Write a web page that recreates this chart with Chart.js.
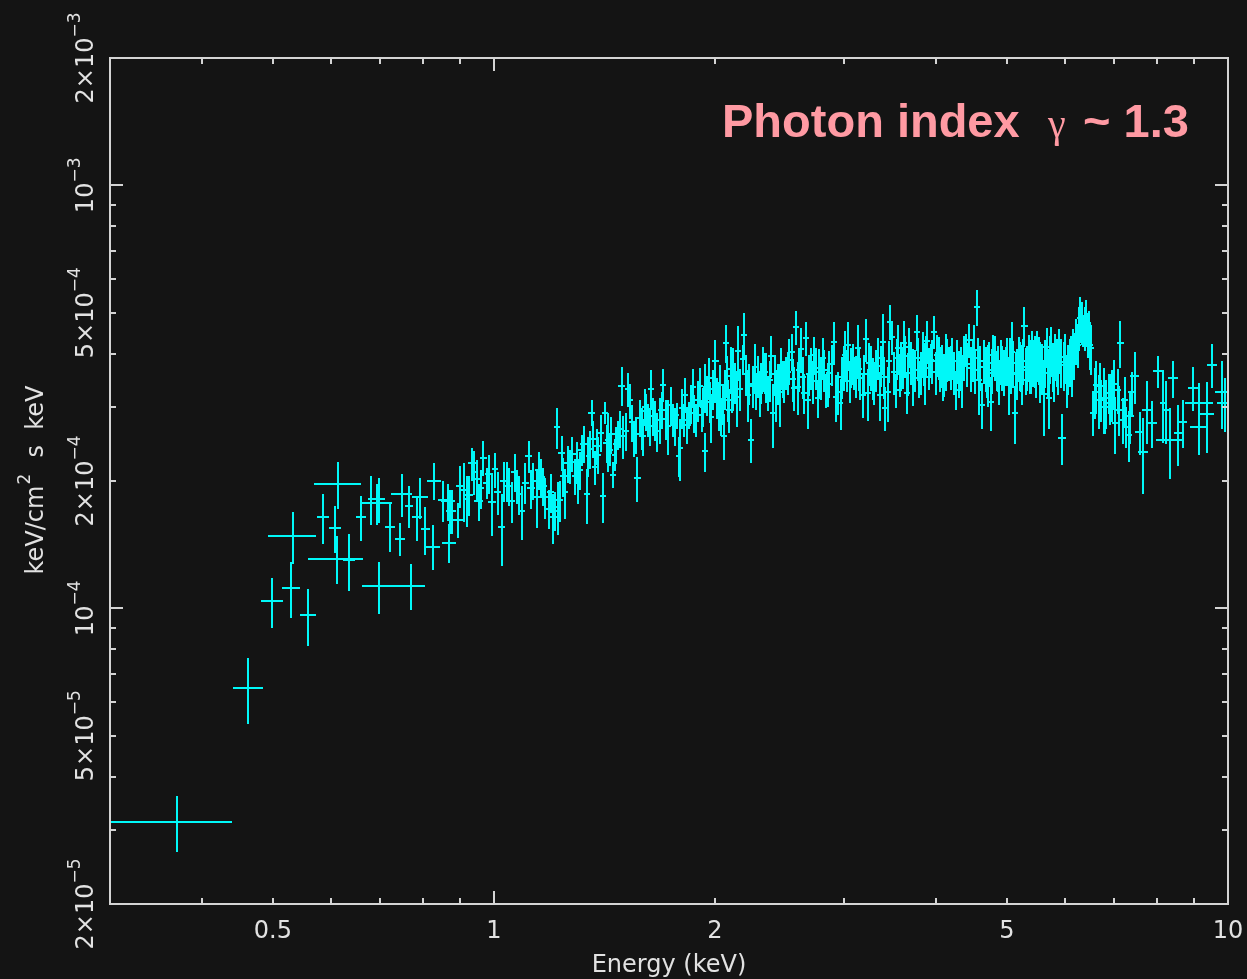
<!DOCTYPE html>
<html>
<head>
<meta charset="utf-8">
<script src="https://cdn.jsdelivr.net/npm/chart.js@4.4.1/dist/chart.umd.min.js"></script>
<style>
  html, body { margin: 0; padding: 0; background: #141414; }
  #wrap { width: 1247px; height: 979px; position: relative; }
</style>
</head>
<body>
<div id="wrap"><canvas id="spec"></canvas></div>
<script>
// Unfolded spectrum: bin centre (keV), half bin width (keV),
// flux and 1-sigma error in units of 1e-4 keV/cm2/s/keV
const energy = [
  0.37, 0.463, 0.499, 0.530, 0.532, 0.558, 0.586, 0.608, 0.611, 0.614,
  0.635, 0.659, 0.681, 0.693, 0.698, 0.698, 0.722, 0.745, 0.749, 0.766,
  0.770, 0.786, 0.794, 0.807, 0.825, 0.830, 0.852, 0.866, 0.869, 0.871,
  0.877, 0.894, 0.910, 0.919, 0.933, 0.941, 0.953, 0.968, 0.978, 0.994,
  1.003, 1.025, 1.031, 1.041, 1.058, 1.075, 1.091, 1.115, 1.132, 1.144,
  1.160, 1.174, 1.187, 1.205, 1.218, 1.222, 1.237, 1.250, 1.269, 1.289,
  1.303, 1.317, 1.338, 1.345, 1.359, 1.373, 1.388, 1.409, 1.416, 1.431,
  1.440, 1.452, 1.460, 1.477, 1.493, 1.500, 1.523, 1.535, 1.553, 1.569,
  1.589, 1.604, 1.620, 1.639, 1.656, 1.683, 1.700, 1.728, 1.756, 1.775,
  1.785, 1.795, 1.814, 1.824, 1.845, 1.866, 1.885, 1.908, 1.918, 1.937,
  1.942, 1.962, 1.979, 2.004, 2.000, 2.024, 2.041, 2.058, 2.073, 2.086,
  2.092, 2.105, 2.119, 2.143, 2.151, 2.185, 2.193, 2.219, 2.237, 2.265,
  2.277, 2.301, 2.325, 2.350, 2.365, 2.387, 2.399, 2.425, 2.450, 2.475,
  2.501, 2.527, 2.546, 2.567, 2.580, 2.594, 2.621, 2.648, 2.662, 2.676,
  2.704, 2.733, 2.762, 2.776, 2.806, 2.835, 2.865, 2.905, 2.926, 2.947,
  2.966, 2.996, 3.009, 3.040, 3.066, 3.098, 3.131, 3.157, 3.179, 3.213,
  3.230, 3.264, 3.299, 3.334, 3.358, 3.385, 3.412, 3.438, 3.466, 3.484,
  3.528, 3.554, 3.584, 3.622, 3.649, 3.679, 3.718, 3.768, 3.796, 3.836,
  3.863, 3.896, 3.937, 3.978, 4.020, 4.053, 4.091, 4.126, 4.169, 4.213,
  4.257, 4.302, 4.347, 4.392, 4.439, 4.472, 4.509, 4.547, 4.580, 4.627,
  4.676, 4.710, 4.750, 4.790, 4.840, 4.875, 4.926, 4.978, 5.025, 5.045,
  5.083, 5.120, 5.163, 5.205, 5.244, 5.282, 5.327, 5.371, 5.411, 5.451,
  5.497, 5.543, 5.612, 5.660, 5.701, 5.744, 5.792, 5.841, 5.890, 5.943,
  5.973, 6.036, 6.085, 6.131, 6.175, 6.239, 6.294, 6.347, 6.414, 6.460,
  6.510, 6.551, 6.619, 6.667, 6.716, 6.771, 6.828, 6.877, 6.950, 7.023,
  7.074, 7.133, 7.194, 7.269, 7.321, 7.399, 7.46, 7.58, 7.66, 7.76,
  7.88, 8.03, 8.16, 8.22, 8.34, 8.42, 8.55, 8.68, 9.13, 8.96,
  9.13, 9.36, 9.51, 9.81, 9.90,
  // crowded 0.9-7.4 keV stretch
  0.900, 0.925, 0.947, 0.960, 0.985, 1.012, 1.048, 1.067, 1.083, 1.103,
  1.123, 1.152, 1.168, 1.196, 1.212, 1.229, 1.244, 1.260, 1.279, 1.296,
  1.310, 1.325, 1.352, 1.366, 1.380, 1.398, 1.424, 1.446, 1.468, 1.485,
  1.512, 1.544, 1.561, 1.579, 1.596, 1.612, 1.630, 1.648, 1.668, 1.692,
  1.714, 1.742, 1.766, 1.805, 1.835, 1.856, 1.876, 1.897, 1.928, 1.950,
  1.970, 1.990, 2.012, 2.032, 2.050, 2.066, 2.080, 2.112, 2.130, 2.165,
  2.205, 2.228, 2.252, 2.289, 2.313, 2.338, 2.376, 2.412, 2.438, 2.462,
  2.488, 2.514, 2.556, 2.607, 2.634, 2.690, 2.718, 2.748, 2.791, 2.820,
  2.850, 2.885, 2.980, 3.024, 3.053, 3.082, 3.114, 3.145, 3.196, 3.247,
  3.282, 3.317, 3.372, 3.400, 3.452, 3.506, 3.541, 3.569, 3.603, 3.636,
  3.664, 3.698, 3.743, 3.782, 3.816, 3.850, 3.880, 3.916, 3.957, 4.000,
  4.036, 4.072, 4.108, 4.148, 4.191, 4.235, 4.280, 4.325, 4.370, 4.415,
  4.490, 4.528, 4.563, 4.600, 4.652, 4.693, 4.730, 4.770, 4.815, 4.858,
  4.900, 4.952, 5.003, 5.064, 5.101, 5.142, 5.184, 5.225, 5.263, 5.305,
  5.349, 5.391, 5.431, 5.474, 5.520, 5.578, 5.636, 5.680, 5.722, 5.768,
  5.816, 5.866, 5.915, 6.005, 6.060, 6.108, 6.153, 6.206, 6.266, 6.320,
  6.380, 6.437, 6.485, 6.590, 6.690, 6.800, 6.910, 6.990, 7.100, 7.230,
  7.350
];
const energyErr = [
  0.07, 0.022, 0.017, 0.015, 0.040, 0.014, 0.011, 0.011, 0.053, 0.045,
  0.012, 0.010, 0.008, 0.034, 0.012, 0.037, 0.012, 0.012, 0.025, 0.009,
  0.035, 0.013, 0.020, 0.012, 0.020, 0.018, 0.014, 0.020, 0.020, 0.010,
  0.012, 0.014, 0.010, 0.010, 0.012, 0.010, 0.012, 0.011, 0.010, 0.012,
  0.010, 0.012, 0.010, 0.011, 0.012, 0.010, 0.012, 0.013, 0.011, 0.011,
  0.013, 0.011, 0.012, 0.013, 0.011, 0.011, 0.013, 0.012, 0.013, 0.012,
  0.012, 0.014, 0.012, 0.012, 0.014, 0.012, 0.013, 0.012, 0.014, 0.012,
  0.012, 0.013, 0.012, 0.013, 0.015, 0.013, 0.015, 0.013, 0.013, 0.015,
  0.014, 0.015, 0.014, 0.016, 0.014, 0.015, 0.016, 0.015, 0.015, 0.015,
  0.016, 0.015, 0.016, 0.017, 0.016, 0.017, 0.016, 0.017, 0.016, 0.018,
  0.018, 0.024, 0.018, 0.019, 0.018, 0.019, 0.019, 0.020, 0.019, 0.019,
  0.019, 0.020, 0.020, 0.020, 0.020, 0.021, 0.021, 0.021, 0.021, 0.021,
  0.021, 0.022, 0.022, 0.022, 0.022, 0.022, 0.023, 0.023, 0.023, 0.023,
  0.023, 0.024, 0.024, 0.024, 0.024, 0.024, 0.025, 0.025, 0.025, 0.025,
  0.025, 0.026, 0.026, 0.026, 0.026, 0.027, 0.027, 0.027, 0.028, 0.028,
  0.028, 0.028, 0.028, 0.029, 0.029, 0.029, 0.029, 0.030, 0.030, 0.030,
  0.030, 0.031, 0.031, 0.031, 0.031, 0.032, 0.032, 0.032, 0.033, 0.033,
  0.033, 0.033, 0.034, 0.034, 0.034, 0.035, 0.035, 0.035, 0.036, 0.036,
  0.036, 0.037, 0.037, 0.037, 0.038, 0.038, 0.038, 0.039, 0.039, 0.040,
  0.040, 0.040, 0.041, 0.041, 0.042, 0.042, 0.042, 0.043, 0.043, 0.044,
  0.044, 0.044, 0.045, 0.045, 0.046, 0.046, 0.046, 0.047, 0.047, 0.048,
  0.048, 0.048, 0.049, 0.049, 0.050, 0.050, 0.050, 0.051, 0.051, 0.052,
  0.052, 0.053, 0.053, 0.054, 0.054, 0.055, 0.055, 0.056, 0.056, 0.070,
  0.057, 0.058, 0.058, 0.059, 0.059, 0.060, 0.060, 0.061, 0.062, 0.062,
  0.063, 0.070, 0.065, 0.066, 0.066, 0.068, 0.068, 0.070, 0.072, 0.075,
  0.075, 0.080, 0.080, 0.085, 0.085, 0.090, 0.100, 0.110, 0.120, 0.120,
  0.130, 0.125, 0.080, 0.080, 0.370, 0.130, 0.120, 0.110, 0.400, 0.150,
  0.250, 0.220, 0.160, 0.220, 0.250,
  0.011, 0.011, 0.011, 0.011, 0.012, 0.012, 0.012, 0.012, 0.012, 0.012,
  0.013, 0.013, 0.013, 0.013, 0.013, 0.013, 0.013, 0.013, 0.014, 0.014,
  0.014, 0.014, 0.014, 0.014, 0.014, 0.015, 0.015, 0.015, 0.015, 0.015,
  0.015, 0.016, 0.016, 0.016, 0.016, 0.016, 0.016, 0.016, 0.017, 0.017,
  0.017, 0.017, 0.017, 0.018, 0.018, 0.018, 0.018, 0.018, 0.018, 0.019,
  0.019, 0.019, 0.019, 0.019, 0.019, 0.020, 0.020, 0.020, 0.020, 0.021,
  0.021, 0.021, 0.021, 0.022, 0.022, 0.022, 0.023, 0.023, 0.023, 0.023,
  0.024, 0.024, 0.024, 0.025, 0.025, 0.025, 0.026, 0.026, 0.026, 0.027,
  0.027, 0.027, 0.028, 0.028, 0.029, 0.029, 0.029, 0.030, 0.030, 0.031,
  0.031, 0.031, 0.032, 0.032, 0.033, 0.033, 0.033, 0.034, 0.034, 0.034,
  0.035, 0.035, 0.035, 0.036, 0.036, 0.036, 0.037, 0.037, 0.037, 0.038,
  0.038, 0.038, 0.039, 0.039, 0.040, 0.040, 0.040, 0.041, 0.041, 0.042,
  0.042, 0.043, 0.043, 0.044, 0.044, 0.044, 0.045, 0.045, 0.046, 0.046,
  0.046, 0.047, 0.047, 0.048, 0.048, 0.049, 0.049, 0.050, 0.050, 0.050,
  0.051, 0.051, 0.052, 0.052, 0.052, 0.053, 0.054, 0.054, 0.054, 0.055,
  0.055, 0.056, 0.056, 0.057, 0.058, 0.058, 0.058, 0.059, 0.060, 0.060,
  0.061, 0.061, 0.062, 0.065, 0.066, 0.068, 0.070, 0.072, 0.075, 0.080,
  0.085
];
const flux = [
  0.313, 0.648, 1.04, 1.12, 1.48, 0.964, 1.64, 1.55, 1.31, 1.97,
  1.30, 1.64, 1.81, 1.77, 1.81, 1.13, 1.56, 1.46, 1.86, 1.75,
  1.13, 1.64, 1.83, 1.54, 1.40, 2.00, 1.80, 1.79, 1.43, 1.70,
  1.70, 1.62, 1.90, 1.81, 2.20, 2.10, 1.79, 2.27, 1.98, 1.78,
  2.13, 1.56, 2.00, 2.00, 1.79, 1.94, 1.70, 2.29, 2.00, 1.83,
  2.04, 1.83, 1.72, 1.64, 2.68, 1.74, 2.33, 1.88, 2.17, 2.05,
  2.01, 2.37, 1.86, 2.29, 2.90, 2.16, 2.31, 1.84, 2.90, 2.50,
  2.37, 2.07, 2.31, 2.57, 3.36, 2.55, 3.30, 3.10, 2.53, 2.03,
  2.67, 3.00, 2.79, 3.30, 2.79, 2.79, 3.37, 2.70, 2.79, 2.86,
  2.29, 2.40, 2.79, 3.20, 2.86, 3.33, 2.79, 3.35, 2.86, 2.35,
  3.34, 3.50, 2.84, 3.84, 3.45, 3.02, 2.85, 2.56, 4.24, 3.11,
  2.95, 3.68, 3.53, 3.16, 4.05, 3.88, 4.43, 3.20, 2.50, 3.72,
  3.28, 3.23, 3.70, 3.53, 3.23, 3.95, 2.90, 3.20, 3.24, 3.50,
  3.60, 3.86, 4.04, 3.32, 4.62, 3.34, 4.10, 3.23, 4.35, 3.11,
  3.70, 3.97, 3.14, 3.62, 3.91, 3.28, 3.60, 4.26, 3.16, 3.24,
  3.06, 3.72, 3.97, 4.19, 3.72, 3.60, 4.12, 3.50, 3.20, 4.33,
  3.23, 3.72, 3.42, 3.91, 3.20, 4.26, 2.98, 3.24, 4.75, 4.38,
  3.28, 4.12, 3.76, 4.24, 3.23, 4.14, 3.56, 4.50, 3.50, 4.01,
  3.53, 4.28, 3.86, 4.50, 3.97, 3.70, 3.34, 3.86, 3.80, 3.91,
  3.28, 3.60, 3.47, 4.08, 4.31, 3.70, 4.08, 5.16, 3.47, 3.03,
  3.70, 3.60, 3.08, 3.97, 3.66, 3.42, 3.72, 3.75, 3.37, 3.91,
  4.04, 2.90, 3.60, 3.76, 3.47, 4.65, 3.72, 3.76, 3.97, 3.86,
  3.97, 3.66, 3.21, 4.14, 3.14, 4.08, 3.62, 3.83, 4.08, 2.53,
  3.76, 3.47, 3.83, 3.66, 3.97, 4.19, 4.85, 4.54, 4.75, 4.50,
  4.12, 2.90, 3.37, 3.11, 3.11, 3.14, 3.06, 3.23, 3.20, 2.74,
  3.28, 4.24, 2.79, 2.69, 2.57, 3.24, 3.54, 2.61, 2.34, 2.95,
  2.74, 3.64, 3.06, 2.95, 2.50, 3.50, 2.60, 2.75, 3.06, 3.32,
  2.69, 2.88, 3.77, 3.25, 3.06,
  1.95, 1.85, 2.02, 1.92, 2.08, 1.88, 1.95, 2.10, 1.86, 1.98,
  1.92, 2.12, 1.95, 1.88, 1.70, 1.80, 2.05, 2.20, 2.32, 2.22,
  2.12, 2.45, 2.38, 2.52, 2.42, 2.60, 2.46, 2.58, 2.44, 2.66,
  2.62, 2.75, 2.58, 2.82, 2.55, 2.92, 2.70, 2.85, 2.62, 2.95,
  2.80, 3.02, 2.70, 2.98, 2.72, 3.05, 2.90, 3.10, 3.00, 3.20,
  3.08, 3.30, 3.15, 3.38, 3.05, 3.30, 3.55, 3.25, 3.42, 3.30,
  3.58, 3.40, 3.35, 3.55, 3.42, 3.62, 3.46, 3.58, 3.40, 3.70,
  3.45, 3.62, 3.48, 3.66, 3.52, 3.58, 3.44, 3.70, 3.50, 3.66,
  3.40, 3.78, 3.52, 3.66, 3.45, 3.80, 3.55, 3.68, 3.58, 3.80,
  3.50, 3.66, 3.75, 3.52, 3.85, 3.62, 3.90, 3.58, 3.72, 3.95,
  3.60, 3.82, 3.66, 3.90, 3.62, 3.80, 3.95, 3.70, 3.85, 3.62,
  3.92, 3.75, 3.58, 3.88, 3.72, 3.62, 3.85, 3.70, 3.95, 3.78,
  3.88, 3.65, 3.90, 3.72, 3.85, 3.58, 3.80, 3.66, 3.92, 3.70,
  3.85, 3.62, 3.88, 3.68, 3.80, 3.58, 3.90, 3.72, 3.85, 3.66,
  3.92, 3.70, 3.82, 3.62, 3.88, 3.72, 3.82, 3.60, 3.90, 3.75,
  3.95, 3.70, 3.82, 3.92, 3.70, 3.88, 4.05, 4.30, 4.60, 4.75,
  4.60, 4.45, 4.20, 3.25, 3.35, 3.00, 3.15, 3.40, 2.95, 3.10,
  2.85
];
const fluxErr = [
  0.048, 0.114, 0.14, 0.17, 0.21, 0.15, 0.22, 0.20, 0.17, 0.25,
  0.20, 0.20, 0.24, 0.20, 0.22, 0.16, 0.20, 0.13, 0.22, 0.20,
  0.14, 0.20, 0.20, 0.20, 0.17, 0.20, 0.20, 0.18, 0.15, 0.20,
  0.20, 0.15, 0.30, 0.25, 0.20, 0.25, 0.18, 0.22, 0.17, 0.30,
  0.20, 0.30, 0.22, 0.22, 0.20, 0.18, 0.25, 0.20, 0.20, 0.28,
  0.22, 0.20, 0.18, 0.22, 0.30, 0.25, 0.22, 0.25, 0.20, 0.20,
  0.25, 0.20, 0.28, 0.25, 0.20, 0.20, 0.23, 0.25, 0.17, 0.40,
  0.20, 0.15, 0.20, 0.20, 0.35, 0.30, 0.30, 0.30, 0.25, 0.25,
  0.30, 0.30, 0.25, 0.35, 0.30, 0.35, 0.30, 0.40, 0.25, 0.20,
  0.25, 0.40, 0.25, 0.30, 0.20, 0.35, 0.25, 0.35, 0.25, 0.25,
  0.45, 0.40, 0.38, 0.48, 0.40, 0.40, 0.30, 0.32, 0.44, 0.35,
  0.35, 0.46, 0.60, 0.48, 0.60, 0.32, 0.55, 0.45, 0.30, 0.50,
  0.33, 0.40, 0.45, 0.48, 0.30, 0.45, 0.50, 0.45, 0.55, 0.35,
  0.32, 0.48, 0.40, 0.40, 0.42, 0.48, 0.50, 0.35, 0.40, 0.45,
  0.42, 0.40, 0.32, 0.48, 0.45, 0.30, 0.45, 0.50, 0.40, 0.38,
  0.42, 0.45, 0.55, 0.55, 0.40, 0.32, 0.55, 0.40, 0.38, 0.50,
  0.45, 0.45, 0.40, 0.45, 0.42, 0.70, 0.35, 0.48, 0.45, 0.40,
  0.30, 0.55, 0.50, 0.55, 0.35, 0.45, 0.55, 0.45, 0.35, 0.50,
  0.50, 0.50, 0.35, 0.40, 0.45, 0.45, 0.25, 0.60, 0.35, 0.45,
  0.33, 0.45, 0.50, 0.37, 0.40, 0.45, 0.60, 0.50, 0.60, 0.38,
  0.45, 0.60, 0.45, 0.45, 0.40, 0.40, 0.45, 0.40, 0.50, 0.45,
  0.70, 0.45, 0.50, 0.50, 0.45, 0.50, 0.45, 0.55, 0.55, 0.55,
  0.55, 0.60, 0.65, 0.45, 0.48, 0.55, 0.55, 0.50, 0.50, 0.35,
  0.50, 0.50, 0.50, 0.50, 0.50, 0.50, 0.60, 0.40, 0.60, 0.55,
  0.55, 0.35, 0.48, 0.45, 0.35, 0.55, 0.40, 0.35, 0.45, 0.42,
  0.40, 0.55, 0.35, 0.30, 0.35, 0.38, 0.50, 0.30, 0.48, 0.50,
  0.35, 0.32, 0.60, 0.50, 0.48, 0.35, 0.43, 0.35, 0.35, 0.40,
  0.38, 0.55, 0.45, 0.60, 0.45,
  0.22, 0.20, 0.22, 0.20, 0.22, 0.22, 0.20, 0.22, 0.20, 0.22,
  0.20, 0.22, 0.20, 0.20, 0.18, 0.20, 0.22, 0.22, 0.22, 0.25,
  0.22, 0.25, 0.24, 0.25, 0.24, 0.26, 0.25, 0.26, 0.25, 0.27,
  0.27, 0.28, 0.26, 0.28, 0.26, 0.30, 0.28, 0.30, 0.28, 0.30,
  0.30, 0.32, 0.28, 0.32, 0.28, 0.32, 0.30, 0.34, 0.32, 0.35,
  0.34, 0.36, 0.35, 0.38, 0.34, 0.36, 0.40, 0.36, 0.38, 0.38,
  0.40, 0.38, 0.38, 0.40, 0.38, 0.40, 0.38, 0.40, 0.38, 0.42,
  0.40, 0.42, 0.40, 0.42, 0.40, 0.40, 0.40, 0.42, 0.40, 0.42,
  0.40, 0.42, 0.40, 0.42, 0.40, 0.42, 0.40, 0.42, 0.40, 0.44,
  0.40, 0.42, 0.42, 0.40, 0.44, 0.42, 0.44, 0.42, 0.42, 0.45,
  0.42, 0.44, 0.42, 0.45, 0.42, 0.44, 0.45, 0.42, 0.45, 0.42,
  0.45, 0.44, 0.42, 0.45, 0.44, 0.42, 0.45, 0.44, 0.46, 0.45,
  0.46, 0.44, 0.46, 0.45, 0.46, 0.44, 0.46, 0.45, 0.48, 0.46,
  0.47, 0.45, 0.48, 0.46, 0.48, 0.46, 0.48, 0.47, 0.48, 0.47,
  0.50, 0.48, 0.49, 0.48, 0.50, 0.49, 0.50, 0.48, 0.50, 0.50,
  0.51, 0.50, 0.51, 0.52, 0.50, 0.52, 0.53, 0.54, 0.55, 0.56,
  0.55, 0.55, 0.54, 0.45, 0.45, 0.42, 0.44, 0.46, 0.40, 0.42,
  0.40
];
const FLUX_UNIT = 1e-4;

// axis labels
const xTickValues = [0.5, 1, 2, 5, 10];
const xTickText = ['0.5', '1', '2', '5', '10'];
const yTickValues = [2e-5, 5e-5, 1e-4, 2e-4, 5e-4, 1e-3, 2e-3];
const yTickMant = ['2×10', '5×10', '10', '2×10', '5×10', '10', '2×10'];
const yTickExp = ['−5', '−5', '−4', '−4', '−4', '−3', '−3'];

const BG = '#141414';
const INK = '#e2e2e2';
const FRAME = '#d4d4d4';
const CYAN = '#00f8f8';
const PINK = '#ff9aa3';
const AXFONT = "'DejaVu Sans', 'Liberation Sans', sans-serif";

const points = energy.map((e, i) => ({ x: e, y: flux[i] * FLUX_UNIT }));

const background = {
  id: 'background',
  beforeDraw(chart) {
    const ctx = chart.ctx;
    ctx.save();
    ctx.fillStyle = BG;
    ctx.fillRect(0, 0, chart.width, chart.height);
    ctx.restore();
  }
};

// crosses: horizontal = bin width, vertical = flux error
const errorBars = {
  id: 'errorBars',
  afterDatasetsDraw(chart) {
    const { ctx, chartArea: a, scales: { x, y } } = chart;
    ctx.save();
    ctx.beginPath();
    ctx.rect(a.left, a.top, a.right - a.left, a.bottom - a.top);
    ctx.clip();
    ctx.strokeStyle = CYAN;
    ctx.lineWidth = 2;
    ctx.beginPath();
    for (let i = 0; i < energy.length; i++) {
      const px = Math.round(x.getPixelForValue(energy[i]));
      const py = Math.round(y.getPixelForValue(flux[i] * FLUX_UNIT));
      const x0 = x.getPixelForValue(Math.max(energy[i] - energyErr[i], 0.2));
      const x1 = x.getPixelForValue(energy[i] + energyErr[i]);
      const y0 = y.getPixelForValue((flux[i] + fluxErr[i]) * FLUX_UNIT);
      const y1 = y.getPixelForValue((flux[i] - fluxErr[i]) * FLUX_UNIT);
      ctx.moveTo(Math.round(x0), py);
      ctx.lineTo(Math.round(x1), py);
      ctx.moveTo(px, Math.round(y0));
      ctx.lineTo(px, Math.round(y1));
    }
    ctx.stroke();
    ctx.restore();
  }
};

// box, inward ticks on all four sides, tick labels and titles
const frame = {
  id: 'frame',
  afterDraw(chart) {
    const { ctx, chartArea: a, scales: { x, y } } = chart;
    ctx.save();
    ctx.strokeStyle = FRAME;
    ctx.lineWidth = 2;
    ctx.strokeRect(a.left, a.top, a.right - a.left, a.bottom - a.top);

    ctx.beginPath();
    for (let e = -1; e <= 1; e++) {
      for (let k = 1; k <= 9; k++) {
        const v = k * Math.pow(10, e);
        if (v < x.min - 1e-9 || v > x.max + 1e-9) continue;
        const len = k === 1 ? 13 : 6;
        const px = Math.round(x.getPixelForValue(v));
        ctx.moveTo(px, a.bottom); ctx.lineTo(px, a.bottom - len);
        ctx.moveTo(px, a.top); ctx.lineTo(px, a.top + len);
      }
    }
    for (let e = -5; e <= -3; e++) {
      for (let k = 1; k <= 9; k++) {
        const v = k * Math.pow(10, e);
        if (v < y.min * 0.999 || v > y.max * 1.001) continue;
        const len = k === 1 ? 13 : 6;
        const py = Math.round(y.getPixelForValue(v));
        ctx.moveTo(a.left, py); ctx.lineTo(a.left + len, py);
        ctx.moveTo(a.right, py); ctx.lineTo(a.right - len, py);
      }
    }
    ctx.stroke();

    ctx.fillStyle = INK;
    ctx.font = `24px ${AXFONT}`;
    ctx.textAlign = 'center';
    ctx.textBaseline = 'alphabetic';
    xTickValues.forEach((v, i) => {
      ctx.fillText(xTickText[i], x.getPixelForValue(v), a.bottom + 34);
    });
    ctx.fillText('Energy (keV)', (a.left + a.right) / 2, 972);

    // rotated y labels with superscript exponents
    ctx.textAlign = 'left';
    yTickValues.forEach((v, i) => {
      const py = y.getPixelForValue(v);
      ctx.font = `24px ${AXFONT}`;
      const w1 = ctx.measureText(yTickMant[i]).width;
      ctx.font = `17px ${AXFONT}`;
      const w2 = ctx.measureText(yTickExp[i]).width;
      const start = -(w1 + w2) / 2;
      ctx.save();
      ctx.translate(93, py);
      ctx.rotate(-Math.PI / 2);
      ctx.font = `24px ${AXFONT}`;
      ctx.fillText(yTickMant[i], start, 0);
      ctx.font = `17px ${AXFONT}`;
      ctx.fillText(yTickExp[i], start + w1, -13);
      ctx.restore();
    });

    // y title: keV/cm^2 s keV
    const t1 = 'keV/cm', t2 = '2', t3 = '  s  keV';
    ctx.font = `24px ${AXFONT}`;
    const w1 = ctx.measureText(t1).width;
    const w3 = ctx.measureText(t3).width;
    ctx.font = `17px ${AXFONT}`;
    const w2 = ctx.measureText(t2).width;
    const s = -(w1 + w2 + w3) / 2;
    ctx.save();
    ctx.translate(43, (a.top + a.bottom) / 2);
    ctx.rotate(-Math.PI / 2);
    ctx.font = `24px ${AXFONT}`;
    ctx.fillText(t1, s, 0);
    ctx.font = `17px ${AXFONT}`;
    ctx.fillText(t2, s + w1 + 1, -13);
    ctx.font = `24px ${AXFONT}`;
    ctx.fillText(t3, s + w1 + w2 + 2, 0);
    ctx.restore();

    // photon index annotation
    ctx.fillStyle = PINK;
    ctx.textAlign = 'left';
    ctx.font = "bold 47px 'Liberation Sans', Arial, sans-serif";
    ctx.fillText('Photon index', 722, 137);
    ctx.font = "40px 'Liberation Serif', 'DejaVu Serif', serif";
    ctx.fillText('γ', 1048, 137);
    ctx.font = "bold 47px 'Liberation Sans', Arial, sans-serif";
    ctx.fillText('~ 1.3', 1083, 137);
    ctx.restore();
  }
};

new Chart(document.getElementById('spec'), {
  type: 'scatter',
  data: {
    datasets: [{
      data: points,
      pointRadius: 0,
      pointHoverRadius: 0,
      showLine: false
    }]
  },
  options: {
    responsive: true,
    maintainAspectRatio: false,
    animation: false,
    layout: { padding: { left: 110, top: 58, right: 19, bottom: 75 } },
    plugins: { legend: { display: false }, tooltip: { enabled: false } },
    scales: {
      x: { type: 'logarithmic', min: 0.3, max: 10, display: false },
      y: { type: 'logarithmic', min: 2e-5, max: 2e-3, display: false }
    }
  },
  plugins: [background, errorBars, frame]
});
</script>
</body>
</html>
